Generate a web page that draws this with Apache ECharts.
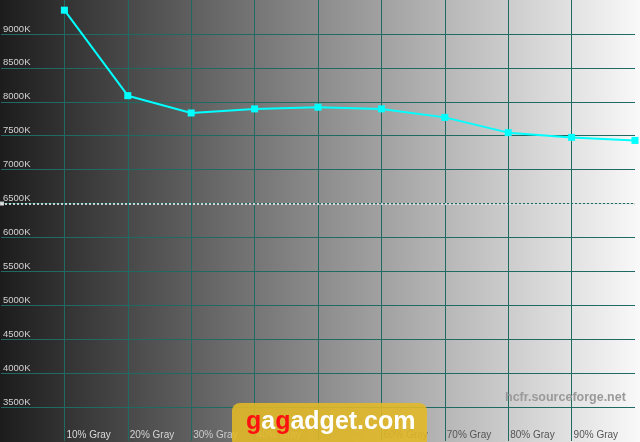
<!DOCTYPE html>
<html><head><meta charset="utf-8">
<script src="https://cdn.jsdelivr.net/npm/echarts@6/dist/echarts.min.js"></script>
<style>html,body{margin:0;padding:0;background:#000}#c{width:640px;height:442px}</style>
</head><body><div id="c"></div>
<script>
const grayLevels = [10, 20, 30, 40, 50, 60, 70, 80, 90, 100];
const colorTemp = [9350, 8090, 7835, 7895, 7920, 7895, 7770, 7545, 7475, 7430];
const xTickLabels = ['', '10% Gray', '20% Gray', '30% Gray', '40% Gray', '50% Gray', '60% Gray', '70% Gray', '80% Gray', '90% Gray', ''];
const targetTemp = 6500;

const chart = echarts.init(document.getElementById('c'));
const labelColors = ['#d8d8d8','#dadada','#d4d4d4','#cccccc','#bbbbbb','#888','#555','#555','#555','#555','#555'];
const gridColor = '#1f6a63';
chart.setOption({
  animation: false,
  backgroundColor: {type:'linear', x:0, y:0, x2:1, y2:0,
    colorStops:[{offset:0,color:'#1c1c1c'},{offset:0.5,color:'#8c8c8c'},{offset:1,color:'#f9f9f9'}]},
  grid: {left: -1, right: 2, top: 0, bottom: 1},
  xAxis: {
    type: 'value', min: 0, max: 100, interval: 10,
    axisLine: {show: false}, axisTick: {show: false},
    splitLine: {show: true, showMinLine: false, showMaxLine: false, lineStyle: {color: gridColor, width: 1}},
    axisLabel: {
      inside: true, margin: 1, align: 'left', verticalAlign: 'bottom',
      fontFamily: 'Liberation Sans, Arial', fontSize: 10,
      formatter: (v) => { const i = Math.round(v / 10); return '{c' + i + '|' + xTickLabels[i] + '}'; },
      rich: Object.fromEntries(labelColors.map((c, i) => ['c' + i, {color: c, fontFamily: 'Liberation Sans, Arial', fontSize: 10, padding:[0,0,0,2]}]))
    }
  },
  yAxis: {
    type: 'value', min: 3000, max: 9500, interval: 500,
    axisLine: {show: false}, axisTick: {show: false},
    splitLine: {show: true, showMinLine: false, showMaxLine: false, lineStyle: {color: gridColor, width: 1}},
    axisLabel: {
      inside: true, margin: 2, align: 'left', verticalAlign: 'bottom',
      color: '#d4d4d4', fontFamily: 'Liberation Sans, Arial', fontSize: 9.5,
      formatter: (v) => (v === 3000 || v === 9500) ? '' : v + 'K'
    }
  },
  series: [{
    type: 'line',
    data: grayLevels.map((g, i) => [g, colorTemp[i]]),
    symbol: 'rect', symbolSize: 7,
    lineStyle: {color: '#00ffff', width: 2},
    itemStyle: {color: '#00ffff'},
    markLine: {
      silent: true, symbol: ['rect', 'none'], symbolSize: [4, 6],
      label: {show: false},
      lineStyle: {color: '#e8e8e8', type: [2, 2], width: 2, opacity: 0.85},
      data: [{yAxis: targetTemp}]
    },
    z: 5
  }],
  graphic: [
    {type: 'text', left: 505, top: 391, z: 10, style: {text: 'hcfr.sourceforge.net', fill: '#9a9a9a', font: 'bold 12.5px Liberation Sans, Arial'}},
    {type: 'rect', left: 232, top: 403, z: 10, shape: {width: 195, height: 45, r: 8}, style: {fill: 'rgba(226,186,38,0.88)'}},
    {type: 'text', left: 246, top: 410, z: 11, style: {
      rich: {r: {fill: '#ff1010', font: 'bold 25px Liberation Sans, Arial'}, w: {fill: '#ffffff', font: 'bold 25px Liberation Sans, Arial'}},
      text: '{r|g}{w|a}{r|g}{w|adget.com}', shadowBlur: 2, shadowColor: 'rgba(0,0,0,0.5)', shadowOffsetX: 1, shadowOffsetY: 1}}
  ]
});
</script></body></html>
